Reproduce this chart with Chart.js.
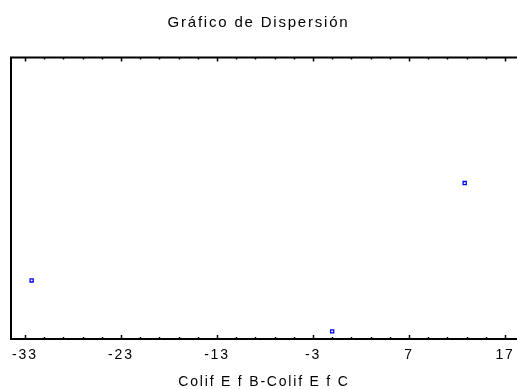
<!DOCTYPE html>
<html>
<head>
<meta charset="utf-8">
<script src="https://cdn.jsdelivr.net/npm/chart.js@4/dist/chart.umd.min.js"></script>
<style>
  html, body { margin: 0; padding: 0; background: #fff; }
  #wrap { width: 517px; height: 389px; }
</style>
</head>
<body>
<div id="wrap"><canvas id="scatter" width="517" height="389"></canvas></div>
<script>
/* Gráfico de Dispersión - Colif E f B - Colif E f C */

const X_VALUES = [-32.3, -1.0, 12.8];
const Y_VALUES = [20.8, 2.7, 55.4];
const X_TICKS = [-33, -23, -13, -3, 7, 17];
const X_MIN = -34.45;
const X_MAX = 18.25;

const FONT = "'Liberation Sans', Arial, sans-serif";
const SPACING = '1.8px';

// the original renders its text with wide letter spacing
const spacedText = {
  id: 'spacedText',
  beforeLayout(chart) { chart.ctx.letterSpacing = SPACING; },
  beforeDraw(chart) { chart.ctx.letterSpacing = SPACING; }
};

// inward tick marks on top and bottom edge, plus the top border
const frameTicks = {
  id: 'frameTicks',
  afterDraw(chart) {
    const { ctx, chartArea, scales } = chart;
    const x = scales.x;
    ctx.save();
    ctx.strokeStyle = '#000';
    ctx.lineWidth = 2;
    ctx.beginPath();
    ctx.moveTo(chartArea.left - 1, chartArea.top);
    ctx.lineTo(chartArea.right, chartArea.top);
    ctx.stroke();

    ctx.lineWidth = 1.5;
    for (let v = X_TICKS[0]; v <= X_TICKS[X_TICKS.length - 1]; v += 2) {
      const px = Math.round(x.getPixelForValue(v)) + 0.5;
      const len = X_TICKS.includes(v) ? 4 : 2;
      ctx.beginPath();
      ctx.moveTo(px, chartArea.top);
      ctx.lineTo(px, chartArea.top + len);
      ctx.moveTo(px, chartArea.bottom);
      ctx.lineTo(px, chartArea.bottom - len);
      ctx.stroke();
    }
    ctx.restore();
  }
};

new Chart(document.getElementById('scatter'), {
  type: 'scatter',
  data: {
    datasets: [{
      data: X_VALUES.map((v, i) => ({ x: v, y: Y_VALUES[i] })),
      pointStyle: 'rect',
      pointRadius: 2.2,
      borderColor: '#0000ff',
      backgroundColor: '#ffffff',
      borderWidth: 1.3
    }]
  },
  options: {
    responsive: false,
    animation: false,
    layout: { padding: 0, autoPadding: false },
    plugins: {
      legend: { display: false },
      tooltip: { enabled: false },
      title: {
        display: true,
        text: 'Gráfico de Dispersión',
        color: '#000',
        font: { family: FONT, size: 15, weight: 'normal' },
        padding: { top: 13.5, bottom: 26 }
      }
    },
    scales: {
      x: {
        type: 'linear',
        min: X_MIN,
        max: X_MAX,
        afterBuildTicks: (scale) => { scale.ticks = X_TICKS.map(v => ({ value: v })); },
        afterFit: (scale) => { scale.height = 50; },
        // invisible tick marks only push the labels down
        grid: { drawOnChartArea: false, drawTicks: true, tickLength: 8, tickColor: 'rgba(0,0,0,0)' },
        border: { display: true, color: '#000', width: 2 },
        ticks: {
          color: '#000',
          padding: 0,
          maxRotation: 0,
          font: { family: FONT, size: 14 }
        },
        title: {
          display: true,
          text: 'Colif E f B-Colif E f C',
          color: '#000',
          font: { family: FONT, size: 14, lineHeight: 1 },
          padding: { top: 0, bottom: 0 }
        }
      },
      y: {
        type: 'linear',
        min: 0,
        max: 100,
        afterFit: (scale) => { scale.width = 11; },
        grid: { drawOnChartArea: false, drawTicks: false },
        border: { display: true, color: '#000', width: 2 },
        ticks: { display: false }
      }
    }
  },
  plugins: [spacedText, frameTicks]
});
</script>
</body>
</html>
